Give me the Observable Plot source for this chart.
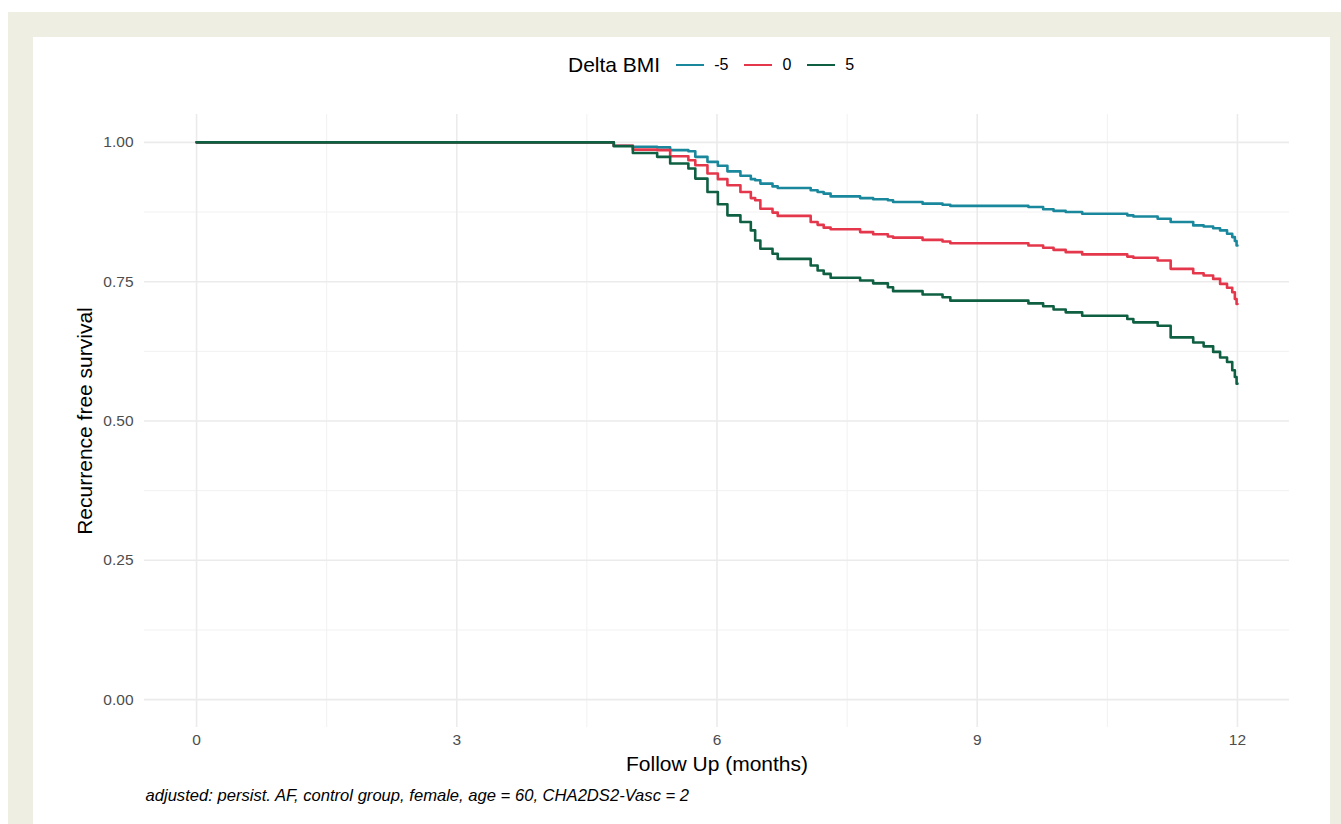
<!DOCTYPE html>
<html>
<head>
<meta charset="utf-8">
<script src="https://cdn.jsdelivr.net/npm/d3@7"></script>
<script src="https://cdn.jsdelivr.net/npm/@observablehq/plot@0.6"></script>
<style>
  html, body { margin: 0; padding: 0; background: #ffffff; width: 1341px; height: 824px; overflow: hidden; font-family: "Liberation Sans", Arial, Helvetica, sans-serif; }
  #frame { position: absolute; left: 8px; top: 12px; width: 1333px; height: 812px; background: #efeee3; }
  #panel { position: absolute; left: 33px; top: 37px; width: 1297px; height: 787px; background: #ffffff; }
  #chart { position: absolute; left: 0; top: 0; }
  #legend { position: absolute; top: 53px; left: 568px; height: 24px; display: flex; align-items: center; white-space: nowrap; }
  #legend .title { font-size: 21px; color: #000; margin-right: 16px; }
  #legend .key { display: inline-block; width: 28px; height: 2.6px; margin-right: 10px; }
  #legend .lab { font-size: 16px; color: #000; margin-right: 16px; }
</style>
</head>
<body>
<div id="frame"></div>
<div id="panel"></div>
<div id="chart"></div>
<div id="legend"></div>
<script>
// ---- data ----
const seriesNames = ["-5", "0", "5"];
const seriesColors = ["#1a889c", "#e5374b", "#0f6042"];
const legendTitle = "Delta BMI";

const months = [0, 4.81, 5.03, 5.31, 5.46, 5.67, 5.75, 5.89, 6.01, 6.12, 6.27, 6.39, 6.44, 6.50, 6.64, 6.70,
  7.08, 7.16, 7.23, 7.31, 7.65, 7.80, 7.97, 8.03, 8.37, 8.60, 8.69, 9.59, 9.76, 9.88, 10.02, 10.21,
  10.73, 10.80, 11.08, 11.23, 11.49, 11.61, 11.72, 11.80, 11.88, 11.94, 11.97, 11.99, 12.0];

const survMinus5 = [1, 0.994, 0.992, 0.991, 0.986, 0.984, 0.974, 0.965, 0.958, 0.948, 0.940, 0.934, 0.932, 0.926, 0.921, 0.918,
  0.914, 0.911, 0.908, 0.903, 0.900, 0.898, 0.896, 0.893, 0.890, 0.888, 0.886, 0.884, 0.880, 0.877, 0.875, 0.872,
  0.869, 0.867, 0.863, 0.857, 0.851, 0.849, 0.846, 0.842, 0.836, 0.830, 0.823, 0.815, 0.815];

const surv0 = [1, 0.994, 0.987, 0.986, 0.975, 0.968, 0.959, 0.944, 0.934, 0.923, 0.911, 0.900, 0.896, 0.881, 0.874, 0.868,
  0.857, 0.852, 0.847, 0.844, 0.839, 0.835, 0.831, 0.829, 0.825, 0.822, 0.819, 0.815, 0.811, 0.807, 0.803, 0.799,
  0.795, 0.793, 0.788, 0.773, 0.765, 0.761, 0.755, 0.746, 0.739, 0.731, 0.719, 0.710, 0.710];

const surv5 = [1, 0.993, 0.981, 0.974, 0.962, 0.953, 0.935, 0.911, 0.889, 0.869, 0.857, 0.842, 0.824, 0.809, 0.800, 0.791,
  0.779, 0.770, 0.764, 0.757, 0.752, 0.747, 0.740, 0.733, 0.727, 0.722, 0.716, 0.711, 0.706, 0.700, 0.695, 0.689,
  0.683, 0.677, 0.671, 0.650, 0.641, 0.634, 0.624, 0.614, 0.606, 0.591, 0.579, 0.567, 0.567];

const xTicks = [0, 3, 6, 9, 12];
const xMinor = [1.5, 4.5, 7.5, 10.5];
const yTicks = [0, 0.25, 0.5, 0.75, 1];
const yMinor = [0.125, 0.375, 0.625, 0.875];

const xTitle = "Follow Up (months)";
const yTitle = "Recurrence free survival";
const caption = "adjusted: persist. AF, control group, female, age = 60, CHA2DS2-Vasc = 2";

// ---- build table ----
const survSeries = [survMinus5, surv0, surv5];
const rows = [];
seriesNames.forEach((name, i) => {
  months.forEach((m, j) => rows.push({series: name, month: m, surv: survSeries[i][j]}));
});

const font = '"Liberation Sans", Arial, Helvetica, sans-serif';

const chart = Plot.plot({
  width: 1341,
  height: 824,
  marginLeft: 144,
  marginRight: 52,
  marginTop: 114,
  marginBottom: 97,
  style: {background: "transparent", fontFamily: font},
  x: {domain: [-0.6, 12.6], axis: null},
  y: {domain: [-0.05, 1.05], axis: null},
  color: {domain: seriesNames, range: seriesColors},
  marks: [
    Plot.ruleX(xMinor, {stroke: "#f1f1f1", strokeWidth: 1}),
    Plot.ruleY(yMinor, {stroke: "#f1f1f1", strokeWidth: 1}),
    Plot.ruleX(xTicks, {stroke: "#ebebeb", strokeWidth: 1.6}),
    Plot.ruleY(yTicks, {stroke: "#ebebeb", strokeWidth: 1.6}),
    Plot.text(xTicks, {x: d => d, frameAnchor: "bottom", dy: 17, text: d => String(d), fill: "#4d4d4d", fontSize: 15.5}),
    Plot.text(yTicks, {y: d => d, frameAnchor: "left", dx: -11, textAnchor: "end", text: d => d.toFixed(2), fill: "#4d4d4d", fontSize: 15.5}),
    Plot.text([xTitle], {frameAnchor: "bottom", dy: 43, text: d => d, fill: "#000", fontSize: 21}),
    Plot.text([yTitle], {frameAnchor: "left", dx: -59, rotate: -90, textAnchor: "middle", text: d => d, fill: "#000", fontSize: 21}),
    Plot.text([caption], {frameAnchor: "bottom-left", dx: 1, dy: 73, textAnchor: "start", text: d => d, fill: "#000", fontSize: 16.6, fontStyle: "italic"}),
    Plot.line(rows, {x: "month", y: "surv", z: "series", stroke: "series", strokeWidth: 2.6, curve: "step-after"})
  ]
});
document.getElementById("chart").appendChild(chart);

// ---- legend ----
const legend = d3.select("#legend");
legend.append("span").attr("class", "title").text(legendTitle);
seriesNames.forEach((name, i) => {
  legend.append("span").attr("class", "key").style("background", seriesColors[i]);
  legend.append("span").attr("class", "lab").text(name);
});
</script>
</body>
</html>
